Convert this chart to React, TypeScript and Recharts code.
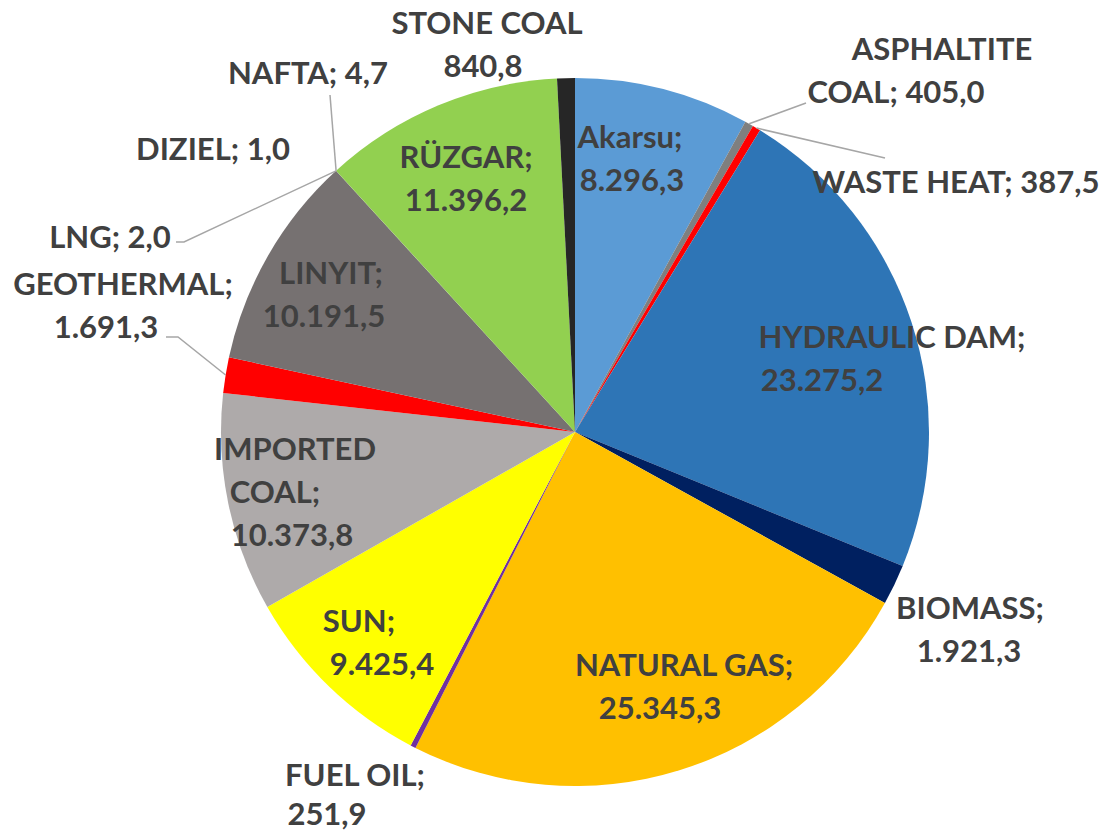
import { PieChart, Pie, Cell } from 'recharts';

// installed capacity by source (MW), clockwise from 12 o'clock
const sources = [
  'Akarsu', 'ASPHALTITE COAL', 'WASTE HEAT', 'HYDRAULIC DAM', 'BIOMASS',
  'NATURAL GAS', 'FUEL OIL', 'SUN', 'IMPORTED COAL', 'GEOTHERMAL',
  'LINYIT', 'LNG', 'DIZIEL', 'NAFTA', 'RÜZGAR', 'STONE COAL',
];
const capacity = [
  8296.3, 405.0, 387.5, 23275.2, 1921.3,
  25345.3, 251.9, 9425.4, 10373.8, 1691.3,
  10191.5, 2.0, 1.0, 4.7, 11396.2, 840.8,
];
const sliceColors = [
  '#5B9BD5', '#7F7F7F', '#FF0000', '#2E75B6', '#002060',
  '#FFC000', '#7030A0', '#FFFF00', '#AEAAAA', '#FF0000',
  '#767171', '#8FAADC', '#C55A11', '#A9D18E', '#92D050', '#262626',
];

const data = sources.map((name, i) => ({ name, value: capacity[i] }));

// turkish number format: 23.275,2
const fmt = (v: number) => {
  const [i, d] = v.toFixed(1).split('.');
  return i.replace(/\B(?=(\d{3})+(?!\d))/g, '.') + ',' + d;
};

// where each label sits: words per line, line centres, first line y, optional leader
type Lay = { lines: number[]; xs: number[]; y: number; lh?: number; sep?: string; leader?: number[][] };
const layout: Record<string, Lay> = {
  'Akarsu': { lines: [1, 1], xs: [630, 632], y: 136 },
  'ASPHALTITE COAL': { lines: [1, 2], xs: [942, 896], y: 48, leader: [[806, 103]] },
  'WASTE HEAT': { lines: [3], xs: [956], y: 181, leader: [[885, 158]] },
  'HYDRAULIC DAM': { lines: [2, 1], xs: [892, 822], y: 336 },
  'BIOMASS': { lines: [1, 1], xs: [970, 969], y: 607 },
  'NATURAL GAS': { lines: [2, 1], xs: [684, 660], y: 664 },
  'FUEL OIL': { lines: [2, 1], xs: [355, 327], y: 774, lh: 39 },
  'SUN': { lines: [1, 1], xs: [359, 382], y: 620 },
  'IMPORTED COAL': { lines: [1, 1, 1], xs: [295, 275, 292], y: 448 },
  'GEOTHERMAL': { lines: [1, 1], xs: [123, 106], y: 283, leader: [[178, 337], [166, 337]] },
  'LNG': { lines: [2], xs: [110], y: 236, leader: [[184, 242], [176, 242]] },
  'DIZIEL': { lines: [2], xs: [213], y: 148 },
  'NAFTA': { lines: [2], xs: [308], y: 72, leader: [[330, 95]] },
  'LINYIT': { lines: [1, 1], xs: [331, 324], y: 272 },
  'RÜZGAR': { lines: [1, 1], xs: [466, 466], y: 156 },
  'STONE COAL': { lines: [2, 1], xs: [487, 483], y: 22, sep: '' },
};

const LINE_H = 43;
const RAD = Math.PI / 180;

const renderLabel = (props: any) => {
  const { cx, cy, midAngle, outerRadius, name, value } = props;
  const lay = layout[name];
  if (!lay) return null;
  const sep = lay.sep ?? ';';
  const lh = lay.lh ?? LINE_H;
  const words = `${name}${sep} ${fmt(value)}`.split(' ');
  const rows: string[] = [];
  let k = 0;
  lay.lines.forEach((n) => {
    rows.push(words.slice(k, k + n).join(' '));
    k += n;
  });
  let leader = null;
  if (lay.leader) {
    const sx = cx + outerRadius * Math.cos(-midAngle * RAD);
    const sy = cy + outerRadius * Math.sin(-midAngle * RAD);
    const pts = [[sx, sy], ...lay.leader].map((p) => p.join(',')).join(' ');
    leader = <polyline points={pts} fill="none" stroke="#A6A6A6" strokeWidth={1.5} />;
  }
  return (
    <g key={name}>
      {leader}
      {rows.map((r, i) => (
        <text
          key={i}
          x={lay.xs[i]}
          y={lay.y + i * lh}
          textAnchor="middle"
          dominantBaseline="central"
          fill="#404040"
          fontSize={31}
          fontWeight="bold"
          fontFamily="Lato, 'Open Sans', sans-serif"
        >
          {r}
        </text>
      ))}
    </g>
  );
};

export default function App() {
  return (
    <div style={{ position: 'absolute', left: 0, top: 0, width: 1105, height: 835, background: '#fff' }}>
      <PieChart width={1105} height={835}>
        <Pie
          data={data}
          dataKey="value"
          nameKey="name"
          cx={570}
          cy={427}
          outerRadius={354}
          startAngle={90}
          endAngle={-270}
          stroke="none"
          label={renderLabel}
          labelLine={false}
          isAnimationActive={false}
        >
          {data.map((d, i) => (
            <Cell key={d.name} fill={sliceColors[i]} />
          ))}
        </Pie>
      </PieChart>
    </div>
  );
}
